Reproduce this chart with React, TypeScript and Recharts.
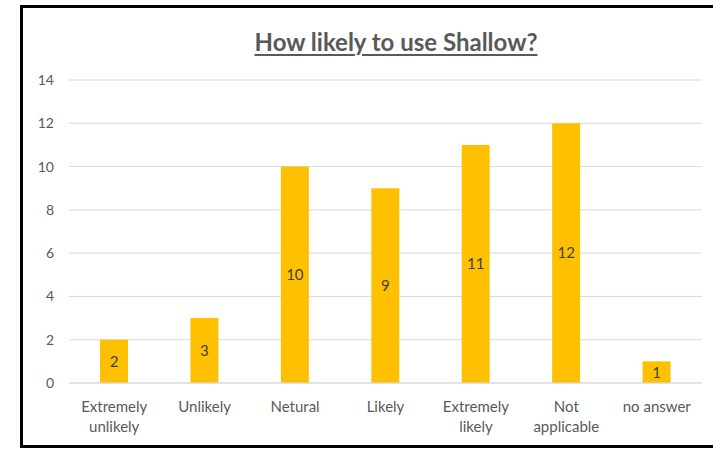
import React from "react";
import { BarChart, Bar, XAxis, YAxis, CartesianGrid, LabelList } from "recharts";

const categories = [
  "Extremely unlikely",
  "Unlikely",
  "Netural",
  "Likely",
  "Extremely likely",
  "Not applicable",
  "no answer",
];
const counts = [2, 3, 10, 9, 11, 12, 1];
const yTicks = [0, 2, 4, 6, 8, 10, 12, 14];

const data = categories.map((name, i) => ({ name, count: counts[i] }));

const FONT = "Lato, 'Open Sans', sans-serif";

const WrappedTick = ({ x, y, payload }: any) => {
  const label: string = payload.value;
  const lines = label.length > 9 && label.includes(" ") ? label.split(" ") : [label];
  return (
    <text x={x} y={y} textAnchor="middle" fill="#595959" fontSize={15} fontFamily={FONT}>
      {lines.map((l, i) => (
        <tspan key={i} x={x} dy={i === 0 ? 21 : 20}>
          {l}
        </tspan>
      ))}
    </text>
  );
};

const edge = (s: React.CSSProperties) => (
  <div style={{ position: "absolute", background: "#000", pointerEvents: "none", ...s }} />
);

export default function App() {
  return (
    <div style={{ position: "fixed", inset: 0, background: "#fff", overflow: "hidden" }}>
      <div
        style={{
          position: "absolute",
          left: 0,
          width: 792,
          top: 28,
          textAlign: "center",
          fontFamily: FONT,
          fontWeight: 700,
          fontSize: 24,
          lineHeight: "28px",
          color: "#595959",
          textDecoration: "underline",
          textDecorationThickness: 2,
          textUnderlineOffset: 3,
        }}
      >
        How likely to use Shallow?
      </div>
      <div style={{ position: "absolute", left: 0, top: 0 }}>
        <BarChart
          width={713}
          height={451}
          data={data}
          margin={{ top: 80, right: 11, left: 0, bottom: 0 }}
          barCategoryGap={0}
        >
          <CartesianGrid vertical={false} stroke="#D9D9D9" strokeWidth={1} />
          <XAxis
            dataKey="name"
            tick={<WrappedTick />}
            tickLine={false}
            axisLine={{ stroke: "#D9D9D9" }}
            interval={0}
            height={68}
          />
          <YAxis
            domain={[0, 14]}
            ticks={yTicks}
            width={69}
            tickLine={false}
            axisLine={false}
            tickMargin={9}
            tick={{ fill: "#595959", fontSize: 14, fontFamily: FONT }}
          />
          <Bar dataKey="count" fill="#FFC000" barSize={28} isAnimationActive={false}>
            <LabelList dataKey="count" position="center" fill="#404040" fontSize={15} fontFamily={FONT} />
          </Bar>
        </BarChart>
      </div>
      {edge({ left: 20, top: 5, width: 800, height: 3 })}
      {edge({ left: 20, top: 5, width: 3, height: 443 })}
      {edge({ left: 20, top: 445, width: 800, height: 3 })}
    </div>
  );
}
